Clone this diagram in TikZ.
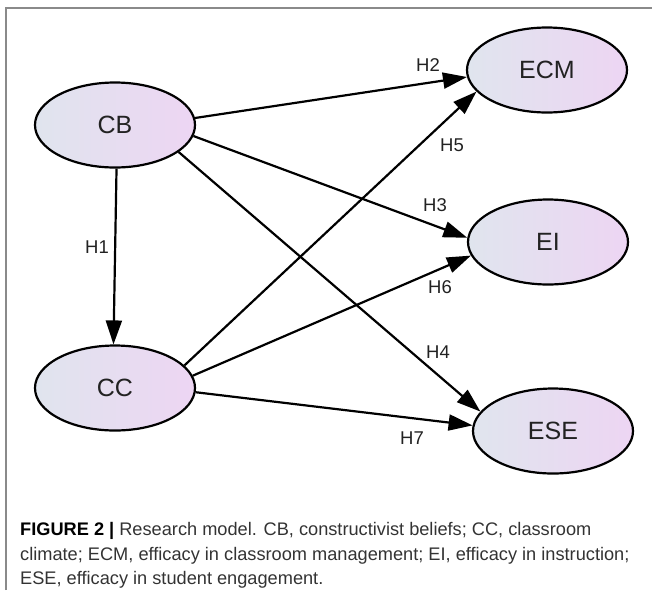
\documentclass[tikz,border=0pt]{standalone}
\usepackage{fontspec}
\setmainfont{Liberation Sans}
\usetikzlibrary{shapes.geometric,arrows.meta}
\definecolor{lc}{HTML}{E0E5EE}
\definecolor{rc}{HTML}{EDD5F3}
\definecolor{frame}{HTML}{8A8A8A}
\definecolor{txt}{HTML}{222222}
\definecolor{cap}{HTML}{333333}
\tikzset{
  var/.style={ellipse, draw=black, line width=2.2pt, minimum width=160pt, minimum height=85pt,
    inner sep=0pt, left color=lc, right color=rc, text=txt, font=\fontsize{25}{25}\selectfont},
  path/.style={line width=2.2pt, -{Triangle[length=24pt,width=16pt]}},
  hlab/.style={text=txt, font=\fontsize{18.5}{18.5}\selectfont, inner sep=0pt},
  capline/.style={anchor=base west, text=cap, font=\fontsize{18.2}{18.2}\selectfont, inner sep=0pt}
}
\begin{document}
\begin{tikzpicture}[x=1pt,y=-1pt]
\useasboundingbox (0,0) rectangle (652,590);
\draw[frame, line width=1.4pt] (6,590) -- (6,8) -- (652,8);
\node[var] (cb) at (115,125) {CB};
\node[var] (cc) at (115,388) {CC};
\node[var] (ecm) at (547,70) {ECM};
\node[var] (ei) at (548,242) {EI};
\node[var] (ese) at (553,431) {ESE};
\draw[path] (cb.272) -- (cc.92);
\draw[path] (cb.5) -- (ecm.185);
\draw[path] (cb.-8) -- (ei.177);
\draw[path] (cb.-23) -- (ese.165);
\draw[path] (cc.18) -- (ecm.197);
\draw[path] (cc.9) -- (ei.190);
\draw[path] (cc.-3) -- (ese.176);
\node[hlab] (h1) at (97,247) {H1};
\node[hlab] (h2) at (428,65) {H2};
\node[hlab] (h3) at (435,205) {H3};
\node[hlab] (h4) at (438,352) {H4};
\node[hlab] (h5) at (452,145) {H5};
\node[hlab] (h6) at (440,287) {H6};
\node[hlab] (h7) at (412,438) {H7};
\node[capline] (c1) at (20,535) {\textbf{\color{black}FIGURE 2 |} Research model. CB, constructivist beliefs; CC, classroom};
\node[capline] (c2) at (20,560) {climate; ECM, efficacy in classroom management; EI, efficacy in instruction;};
\node[capline] (c3) at (20,584) {ESE, efficacy in student engagement.};
\end{tikzpicture}
\end{document}
